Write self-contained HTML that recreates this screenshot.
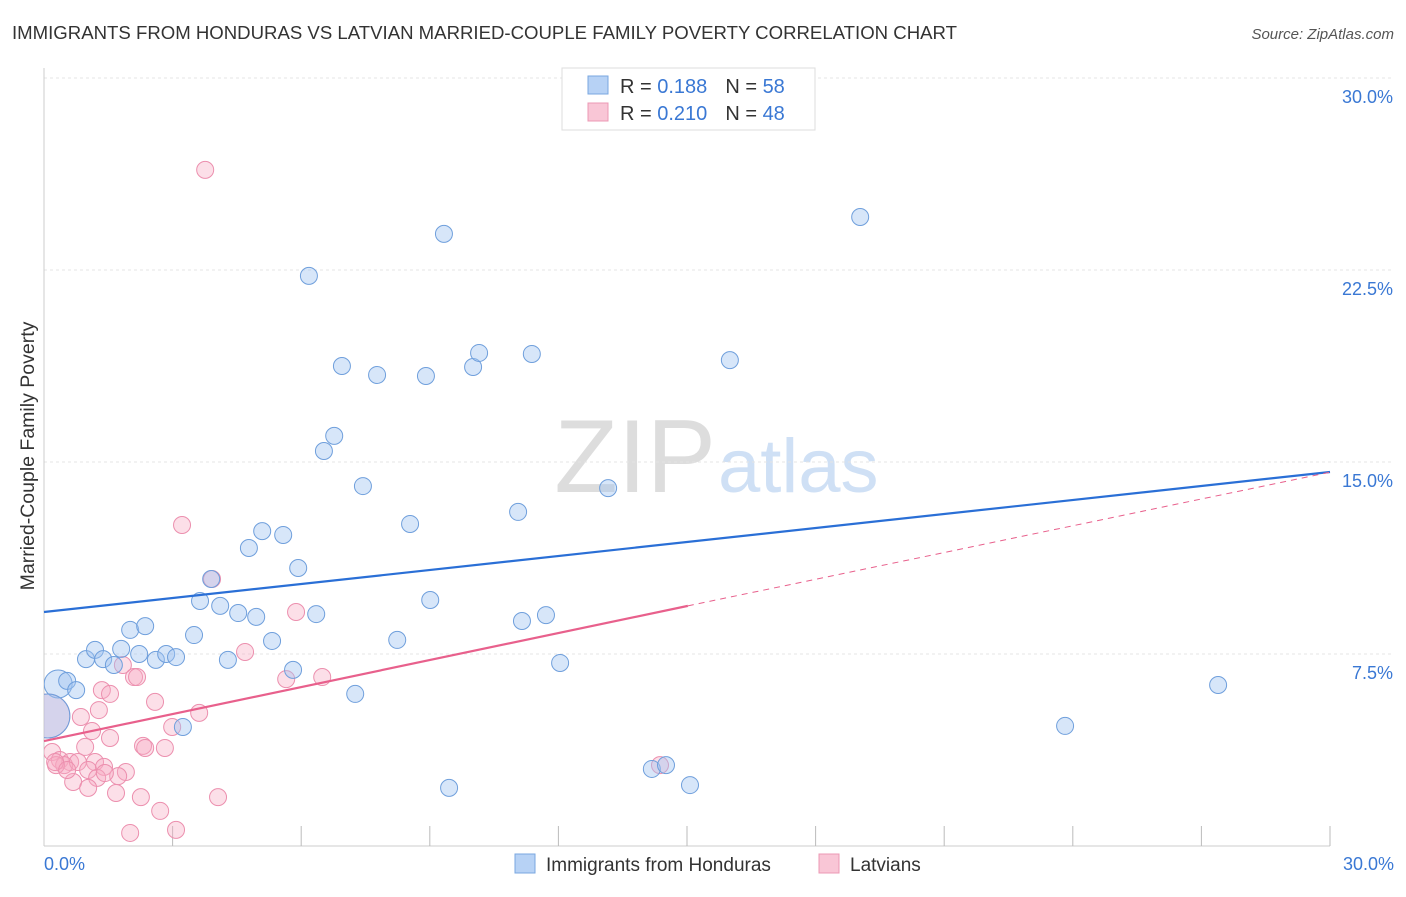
<!DOCTYPE html>
<html><head><meta charset="utf-8"><style>
body{margin:0;background:#fff;font-family:"Liberation Sans",sans-serif;}
svg text{font-family:"Liberation Sans",sans-serif;}
</style></head><body>
<svg id="chart" width="1406" height="892">
<defs><clipPath id="plotclip"><rect x="44" y="60" width="1362" height="786"/></clipPath></defs>
<text x="12" y="39" font-size="18.6" fill="#333">IMMIGRANTS FROM HONDURAS VS LATVIAN MARRIED-COUPLE FAMILY POVERTY CORRELATION CHART</text>
<text x="1394" y="39" font-size="15" fill="#555" font-style="italic" text-anchor="end">Source: ZipAtlas.com</text>
<text x="716" y="492" font-size="104" fill="#ddd" text-anchor="end" font-family="Liberation Serif">ZIP</text>
<text x="718" y="492" font-size="76" fill="#cfe0f5">atlas</text>
<g id="grid"></g>
<line x1="44" y1="68" x2="44" y2="846" stroke="#ccc"/>
<line x1="44" y1="846" x2="1330" y2="846" stroke="#ccc"/>
<g id="xticks"></g>
<text x="34" y="456" font-size="19.5" fill="#333" text-anchor="middle" transform="rotate(-90 34 456)">Married-Couple Family Poverty</text>
<text x="44" y="870" font-size="18" fill="#3a78d4">0.0%</text>
<text x="1394" y="870" font-size="18" fill="#3a78d4" text-anchor="end">30.0%</text>
<g id="pts" clip-path="url(#plotclip)"></g>
<g id="trends"></g>
<g>
<rect x="562" y="68" width="253" height="62" fill="#fff" stroke="#ddd"/>
<rect x="588" y="76" width="20" height="18" fill="#b7d2f5" stroke="#7aa7e0"/>
<rect x="588" y="103" width="20" height="18" fill="#f9c6d6" stroke="#ec98b4"/>
<text x="620" y="93" font-size="20" fill="#333">R = <tspan fill="#3a78d4">0.188</tspan><tspan dx="18">N = </tspan><tspan fill="#3a78d4">58</tspan></text>
<text x="620" y="120" font-size="20" fill="#333">R = <tspan fill="#3a78d4">0.210</tspan><tspan dx="18">N = </tspan><tspan fill="#3a78d4">48</tspan></text>
</g>
<g>
<rect x="515" y="854" width="20" height="19" fill="#b7d2f5" stroke="#7aa7e0"/>
<text x="546" y="871" font-size="19" fill="#333">Immigrants from Honduras</text>
<rect x="819" y="854" width="20" height="19" fill="#f9c6d6" stroke="#ec98b4"/>
<text x="850" y="871" font-size="19" fill="#333">Latvians</text>
</g>
</svg>
<script>
const yTicks=[7.5,15,22.5,30];
const yTickLabels=["7.5%","15.0%","22.5%","30.0%"];
const blueX=[0.33,0.54,0.75,0.98,1.19,1.38,1.63,1.80,2.01,2.22,2.36,2.61,2.85,3.08,3.24,3.50,3.64,3.90,4.11,4.29,4.53,4.78,4.95,5.09,5.32,5.58,5.81,5.93,6.18,6.35,6.53,6.77,6.95,7.26,7.44,7.77,8.24,8.54,8.91,9.01,9.33,9.45,10.01,10.15,11.06,11.15,11.38,11.71,12.04,13.16,14.18,14.51,15.07,16.00,19.04,23.82,27.39,0.09];
const blueY=[6.33,6.45,6.09,7.30,7.66,7.30,7.07,7.70,8.44,7.50,8.59,7.27,7.50,7.38,4.65,8.24,9.57,10.43,9.38,7.27,9.10,11.64,8.95,12.30,8.01,12.15,6.88,10.86,22.27,9.06,15.43,16.02,18.75,5.94,14.06,18.40,8.05,12.58,18.36,9.61,23.91,2.27,18.71,19.26,13.05,8.79,19.22,9.02,7.15,13.98,3.01,3.16,2.38,18.98,24.57,4.69,6.29,5.08];
const blueSize=[14,9,9,9,9,9,9,9,9,9,9,9,9,9,9,9,9,9,9,9,9,9,9,9,9,9,9,9,9,9,9,9,9,9,9,9,9,9,9,9,9,9,9,9,9,9,9,9,9,9,9,9,9,9,9,9,9,22];
const pinkX=[3.76,3.22,3.92,5.88,4.69,1.84,2.10,2.17,1.35,1.54,2.59,5.65,6.49,1.28,0.86,3.62,2.99,1.12,1.54,0.96,2.31,2.82,2.36,0.19,0.37,0.61,0.47,0.28,0.79,1.19,1.03,1.40,1.91,1.24,1.73,0.68,1.03,1.68,2.26,4.06,2.71,2.01,3.08,14.37,0.09,0.26,0.54,1.42];
const pinkY=[26.41,12.54,10.43,9.14,7.58,7.07,6.60,6.60,6.09,5.94,5.63,6.52,6.60,5.31,5.04,5.20,4.65,4.49,4.22,3.87,3.91,3.83,3.83,3.67,3.36,3.28,3.16,3.16,3.28,3.28,2.97,3.09,2.89,2.66,2.73,2.50,2.27,2.07,1.91,1.91,1.37,0.51,0.63,3.16,5.08,3.28,2.97,2.85];
const blueTrend=[0,9.14,30,14.61];
const pinkTrend=[0,4.10,15.02,9.38,30,14.6];
const X=v=>44+v/30*1286, Y=v=>846-v/7.5*192;
const NS="http://www.w3.org/2000/svg";
function mk(t,a,p){const e=document.createElementNS(NS,t);for(const k in a)e.setAttribute(k,a[k]);p.appendChild(e);return e;}
const grid=document.getElementById('grid');
yTicks.forEach((t,i)=>{
 const l=mk('line',{x1:44,x2:1394,y1:Y(t),y2:Y(t),stroke:'#e4e4e4','stroke-dasharray':'3 3'},grid);
 
 
 const tx=mk('text',{x:1393,y:Y(t)+25,'font-size':18,fill:'#3a78d4','text-anchor':'end'},grid);
 tx.textContent=yTickLabels[i];
 
 
});
const xt=document.getElementById('xticks');
for(let k=1;k<=10;k++){
 const l=mk('line',{x1:X(k*3),x2:X(k*3),y1:826,y2:846,stroke:'#bbb'},xt);
 
 
}
const pts=document.getElementById('pts');
pinkX.forEach((x,i)=>{
 const c=mk('circle',{cx:X(x),cy:Y(pinkY[i]),r:i==44?22:8.5,fill:'rgba(246,170,195,0.38)',stroke:'#ec8fae','stroke-width':1},pts);
 
 
});
blueX.forEach((x,i)=>{
 const c=mk('circle',{cx:X(x),cy:Y(blueY[i]),r:blueSize[i]==9?8.5:blueSize[i],fill:'rgba(160,196,240,0.42)',stroke:'#6f9fdc','stroke-width':1},pts);
 
 
});
const tr=document.getElementById('trends');
const bl=mk('line',{x1:X(blueTrend[0]),y1:Y(blueTrend[1]),x2:X(blueTrend[2]),y2:Y(blueTrend[3]),stroke:'#2a6fd6','stroke-width':2.2},tr);


const pl=mk('line',{x1:X(pinkTrend[0]),y1:Y(pinkTrend[1]),x2:X(pinkTrend[2]),y2:Y(pinkTrend[3]),stroke:'#e8608c','stroke-width':2.2},tr);


const pd=mk('line',{x1:X(pinkTrend[2]),y1:Y(pinkTrend[3]),x2:X(pinkTrend[4]),y2:Y(pinkTrend[5]),stroke:'#e8608c','stroke-width':1,'stroke-dasharray':'6 5'},tr);


</script>
</body></html>
